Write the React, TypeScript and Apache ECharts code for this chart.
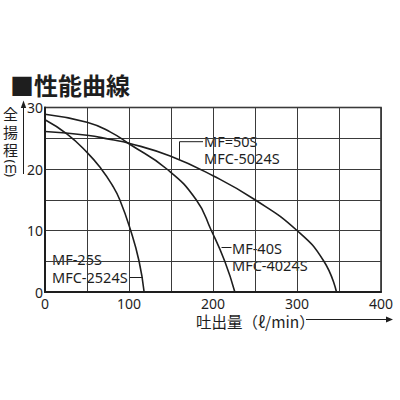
import React, { useEffect, useRef } from 'react';
import * as echarts from 'echarts';

// 吐出量 (ℓ/min) と 全揚程 (m)
const flow25 = [0, 26, 50, 67, 80, 89, 102, 112, 118];
const head25 = [28.0, 25.7, 22.7, 20.0, 17.4, 15.0, 10.0, 5.0, 0];

const flow40 = [0, 50, 78, 100, 145, 180, 198, 214, 226];
const head40 = [28.9, 27.6, 26.0, 24.1, 20.0, 15.0, 10.0, 5.0, 0];

const flow50 = [0, 50, 78, 100, 149, 200, 250, 300, 332, 347];
const head50 = [26.1, 25.5, 24.8, 24.2, 22.1, 18.9, 15.0, 10.0, 5.0, 0];

const xTicks = [0, 100, 200, 300, 400];
const yTicks = [0, 10, 20, 30];

const pairs = (xs: number[], ys: number[]) => xs.map((x, i) => [x, ys[i]]);

const INK = '#1e1e1e';
const LATIN = '"Noto Sans", "Open Sans", sans-serif';
const CJK = '"Noto Sans CJK JP", "Noto Sans", sans-serif';

const txt = (text: string, x: number, y: number, fontSize = 14, font = LATIN, weight = 'normal') => ({
  type: 'text',
  x,
  y,
  style: { text, fill: INK, fontSize, fontFamily: font, fontWeight: weight, textVerticalAlign: 'middle' },
});

// a half-width bracket turned a quarter clockwise, as in vertical writing
const turned = (text: string, x: number, y: number) => ({
  type: 'text',
  x,
  y,
  rotation: -Math.PI / 2,
  style: { text, fill: INK, fontSize: 13, fontFamily: LATIN, textAlign: 'center', textVerticalAlign: 'middle' },
});

const seg = (x1: number, y1: number, x2: number, y2: number) => ({
  type: 'line',
  shape: { x1, y1, x2, y2 },
  style: { stroke: INK, lineWidth: 1 },
});

const App: React.FC = () => {
  const chartRef = useRef<HTMLDivElement>(null);

  useEffect(() => {
    if (!chartRef.current) return;
    const chart = echarts.init(chartRef.current, undefined, { renderer: 'svg' });

    const curve = (name: string, data: number[][]) => ({
      name,
      type: 'line',
      data,
      smooth: true,
      symbol: 'none',
      lineStyle: { color: INK, width: 1.6 },
    });

    chart.setOption({
      animation: false,
      grid: {
        left: 45,
        right: 19,
        top: 107.5,
        bottom: 108,
        show: true,
        borderColor: INK,
        borderWidth: 1.5,
      },
      xAxis: {
        type: 'value',
        min: 0,
        max: 400,
        interval: 50,
        axisLine: { show: true, lineStyle: { color: INK, width: 2 } },
        axisTick: { show: false },
        splitLine: { show: true, lineStyle: { color: '#3a3a3a', width: 1 } },
        axisLabel: {
          formatter: (v: number) => (xTicks.includes(v) ? String(v) : ''),
          fontSize: 14,
          color: INK,
          margin: 4,
          fontFamily: LATIN,
        },
      },
      yAxis: {
        type: 'value',
        min: 0,
        max: 30,
        interval: 5,
        axisLine: { show: true, lineStyle: { color: INK, width: 2 } },
        axisTick: { show: false },
        splitLine: { show: true, lineStyle: { color: '#3a3a3a', width: 1 } },
        axisLabel: {
          formatter: (v: number) => (yTicks.includes(v) ? String(v) : ''),
          fontSize: 14,
          color: INK,
          margin: 2,
          fontFamily: LATIN,
        },
      },
      series: [
        curve('MF-25S', pairs(flow25, head25)),
        curve('MF-40S', pairs(flow40, head40)),
        curve('MF-50S', pairs(flow50, head50)),
      ],
      graphic: [
        txt('■性能曲線', 10, 84, 24, CJK, 'bold'),
        // y axis name (vertical)
        txt('全', 3, 113, 15, CJK),
        txt('揚', 3, 131, 15, CJK),
        txt('程', 3, 149, 15, CJK),
        turned('(', 10.5, 161.5),
        txt('m', 4.5, 168, 13.5, LATIN),
        turned(')', 10.5, 175),
        seg(23.5, 174, 23.5, 106),
        { type: 'polygon', shape: { points: [[20.8, 108], [23.5, 100.5], [26.2, 108]] }, style: { fill: INK } },
        // x axis name
        txt('吐出量（ℓ/min）', 196, 321, 15.5, CJK),
        seg(306, 319.5, 387, 319.5),
        { type: 'polygon', shape: { points: [[386, 316.5], [393, 319.5], [386, 322.5]] }, style: { fill: INK } },
        // model labels
        txt('MF=50S', 204, 141, 14.5),
        txt('MFC-5024S', 204, 158, 14.5),
        seg(179.5, 159.5, 179.5, 141.7),
        seg(179.5, 141.7, 203, 141.7),
        txt('MF-40S', 232, 247.5, 14.5),
        txt('MFC-4024S', 232, 265, 14.5),
        seg(221.5, 247.5, 231.5, 247.5),
        txt('MF-25S', 52, 259, 14.5),
        txt('MFC-2524S', 52, 277, 14.5),
        seg(130, 277.5, 143, 277.5),
      ],
    });

    return () => chart.dispose();
  }, []);

  return (
    <div
      ref={chartRef}
      style={{ position: 'absolute', left: 0, top: 0, width: 400, height: 400, background: '#fff' }}
    />
  );
};

export default App;
